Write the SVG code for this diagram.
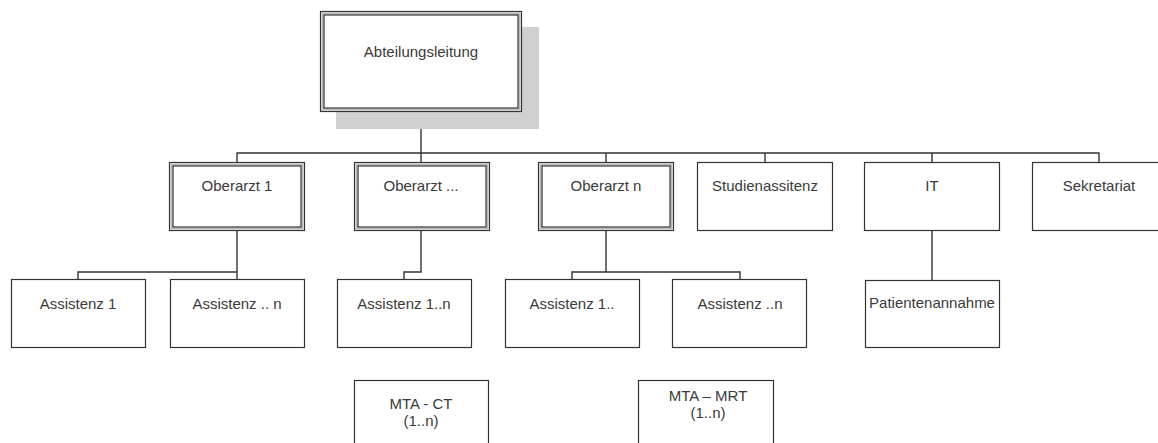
<svg xmlns="http://www.w3.org/2000/svg" width="1158" height="443" viewBox="0 0 1158 443">
  <style>
    .box { fill: #ffffff; stroke: #333333; stroke-width: 1.2; }
    .mid { fill: none; stroke: #b8b8b8; stroke-width: 2; }
    .shadow { fill: #d0d0d0; stroke: none; }
    .lbl { font-family: "Liberation Sans", Arial, sans-serif; font-size: 15px; fill: #3a3a3a; text-anchor: middle; }
    .conn { fill: none; stroke: #333333; stroke-width: 1.4; }
  </style>
  <rect width="1158" height="443" fill="#ffffff"/>

  <!-- connectors -->
  <g id="connectors" class="conn">
    <path d="M421,112 V153"/>
    <path d="M237,162 V153 H1099 V162"/>
    <path d="M421,153 V162 M606,153 V162 M765,153 V162 M932,153 V162"/>
    <path d="M237,230 V279 M78,279 V272 H237"/>
    <path d="M421,230 V272 H404 V279"/>
    <path d="M606,230 V272 M572,279 V272 H740 V279"/>
    <path d="M932,230 V280"/>
  </g>

  <!-- top level -->
  <g id="abteilungsleitung">
    <rect class="shadow" x="336" y="27" width="203" height="102"/>
    <rect class="box" x="320.5" y="11.5" width="201" height="100"/>
    <rect class="mid" x="322.5" y="13.5" width="197" height="96"/>
    <rect class="box" x="324" y="15" width="194" height="93" fill="none"/>
    <text class="lbl" x="421" y="57">Abteilungsleitung</text>
  </g>

  <!-- second level -->
  <g id="oberarzt-1">
    <rect class="box" x="169.5" y="162.5" width="135" height="68"/>
    <rect class="mid" x="171.5" y="164.5" width="131" height="64"/>
    <rect class="box" x="173" y="166" width="128" height="61"/>
    <text class="lbl" x="237" y="191">Oberarzt 1</text>
  </g>
  <g id="oberarzt-mid">
    <rect class="box" x="354.5" y="162.5" width="135" height="68"/>
    <rect class="mid" x="356.5" y="164.5" width="131" height="64"/>
    <rect class="box" x="358" y="166" width="128" height="61"/>
    <text class="lbl" x="421" y="191">Oberarzt ...</text>
  </g>
  <g id="oberarzt-n">
    <rect class="box" x="538.5" y="162.5" width="135" height="68"/>
    <rect class="mid" x="540.5" y="164.5" width="131" height="64"/>
    <rect class="box" x="542" y="166" width="128" height="61"/>
    <text class="lbl" x="606" y="191">Oberarzt n</text>
  </g>
  <g id="studienassistenz">
    <rect class="box" x="697.5" y="162.5" width="135" height="68"/>
    <text class="lbl" x="765" y="191">Studienassitenz</text>
  </g>
  <g id="it">
    <rect class="box" x="864.5" y="162.5" width="135" height="68"/>
    <text class="lbl" x="932" y="191">IT</text>
  </g>
  <g id="sekretariat">
    <rect class="box" x="1032.5" y="162.5" width="135" height="68"/>
    <text class="lbl" x="1099" y="191">Sekretariat</text>
  </g>

  <!-- third level -->
  <g id="assistenz-1">
    <rect class="box" x="11.5" y="279.5" width="134" height="68"/>
    <text class="lbl" x="78" y="309">Assistenz 1</text>
  </g>
  <g id="assistenz-n-1">
    <rect class="box" x="170.5" y="279.5" width="134" height="68"/>
    <text class="lbl" x="237" y="309">Assistenz .. n</text>
  </g>
  <g id="assistenz-1n">
    <rect class="box" x="337.5" y="279.5" width="134" height="68"/>
    <text class="lbl" x="404" y="309">Assistenz 1..n</text>
  </g>
  <g id="assistenz-1-n">
    <rect class="box" x="505.5" y="279.5" width="134" height="68"/>
    <text class="lbl" x="572" y="309">Assistenz 1..</text>
  </g>
  <g id="assistenz-n-n">
    <rect class="box" x="672.5" y="279.5" width="134" height="68"/>
    <text class="lbl" x="740" y="309">Assistenz ..n</text>
  </g>
  <g id="patientenannahme">
    <rect class="box" x="865.5" y="280.5" width="134" height="67"/>
    <text class="lbl" x="932" y="308">Patientenannahme</text>
  </g>

  <!-- staff pools -->
  <g id="mta-ct">
    <rect class="box" x="354.5" y="380.5" width="134" height="70"/>
    <text class="lbl" x="421" y="409">MTA - CT</text>
    <text class="lbl" x="421" y="426">(1..n)</text>
  </g>
  <g id="mta-mrt">
    <rect class="box" x="638.5" y="380.5" width="135" height="70"/>
    <text class="lbl" x="708" y="401">MTA – MRT</text>
    <text class="lbl" x="708" y="418">(1..n)</text>
  </g>
</svg>
